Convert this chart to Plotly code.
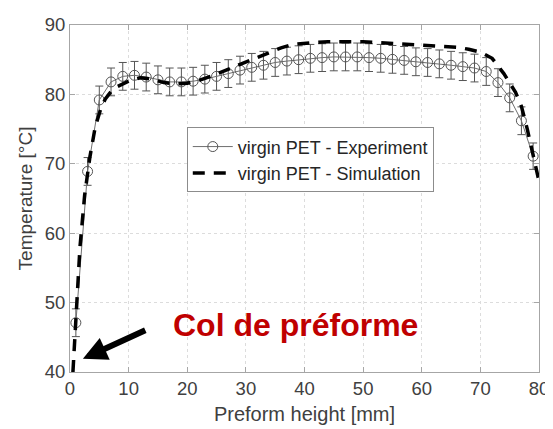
import plotly.graph_objects as go

# Experiment data (virgin PET)
exp_x = [1, 3, 5, 7, 9, 11, 13, 15, 17, 19, 21, 23, 25, 27, 29, 31, 33, 35, 37, 39,
         41, 43, 45, 47, 49, 51, 53, 55, 57, 59, 61, 63, 65, 67, 69, 71, 73, 75, 77, 79]
exp_y = [47.1, 68.9, 79.2, 81.8, 82.6, 82.75, 82.5, 82.1, 81.8, 81.8, 81.9, 82.2, 82.6, 83.0,
         83.5, 83.9, 84.2, 84.6, 84.8, 85.0, 85.2, 85.3, 85.4, 85.4, 85.4, 85.3, 85.2, 85.05,
         84.9, 84.7, 84.6, 84.4, 84.2, 84.0, 83.8, 83.3, 81.7, 79.5, 76.2, 71.1]
exp_err = [2.0, 2.0, 2.0, 2.0, 2.0, 2.0, 2.0, 2.0, 2.0, 2.0, 2.0, 2.0, 2.0, 2.0,
           2.0, 2.0, 2.0, 2.0, 2.0, 2.0, 2.0, 2.0, 2.0, 2.0, 2.0, 2.0, 2.0, 2.0,
           2.0, 2.0, 2.0, 2.0, 2.0, 2.0, 2.0, 2.0, 2.0, 2.0, 2.0, 1.9]

# Simulation data
sim_x = [0.5, 1, 1.7, 2.5, 3.4, 4.3, 5.2, 6, 7, 8, 10, 12, 14, 16, 18, 20, 22, 24, 26, 28,
         30, 32, 34, 36, 38, 40, 42, 44, 46, 48, 50, 52, 54, 56, 58, 60, 62, 64, 66, 68,
         70, 72, 74, 76, 77, 78, 79, 80]
sim_y = [40, 47, 58, 65.5, 71, 75.3, 77.8, 79.3, 80.4, 81.1, 81.9, 82.4, 82.2, 81.7, 81.5,
         81.6, 82.0, 82.6, 83.3, 84.0, 84.7, 85.4, 86.1, 86.7, 87.2, 87.4, 87.5, 87.6, 87.6,
         87.7, 87.6, 87.5, 87.4, 87.3, 87.25, 87.2, 87.1, 87.0, 86.8, 86.5, 86.1, 85.2, 83.0,
         80.3, 78.3, 75.0, 71.3, 67.5]

x_ticks = [0, 10, 20, 30, 40, 50, 60, 70, 80]
y_ticks = [40, 50, 60, 70, 80, 90]

FONT = "Arial, Liberation Sans, Helvetica, sans-serif"
TXT = "#404040"
AX = "#a6a6a6"

fig = go.Figure()
fig.add_trace(go.Scatter(
    x=exp_x, y=exp_y, mode="lines+markers", name="virgin PET - Experiment",
    line=dict(color="#6e6e6e", width=1),
    marker=dict(symbol="circle-open", size=10, color="#555555", line=dict(width=1)),
    error_y=dict(type="data", array=exp_err, visible=True, color="#555555",
                 thickness=1, width=4),
))
fig.add_trace(go.Scatter(
    x=sim_x, y=sim_y, mode="lines", name="virgin PET - Simulation",
    line=dict(color="black", width=3.5, dash="12px,9px"),
))

fig.add_annotation(x=2.2, y=41.9, ax=13.1, ay=46.1, xref="x", yref="y",
                   axref="x", ayref="y", text="", showarrow=True,
                   arrowhead=2, arrowsize=0.8, arrowwidth=6, arrowcolor="black",
                   standoff=0)
fig.add_annotation(x=38.4, y=46.8, xref="x", yref="y", text="<b>Col de préforme</b>",
                   showarrow=False, font=dict(family=FONT, size=32, color="#c00000"))

axis_common = dict(showline=True, mirror="ticks", linecolor=AX, linewidth=1,
                   ticks="inside", ticklen=5, tickcolor=AX,
                   showgrid=True, gridcolor="#dcdcdc", griddash="dot", gridwidth=1,
                   zeroline=False, tickfont=dict(family=FONT, size=18.5, color=TXT))

fig.update_layout(
    width=553, height=429,
    margin=dict(l=62, r=22, t=17, b=65, autoexpand=False),
    paper_bgcolor="white", plot_bgcolor="white",
    font=dict(family=FONT, color=TXT),
    xaxis=dict(range=[0, 80], tickvals=x_ticks, **axis_common,
               title=dict(text="Preform height [mm]", font=dict(family=FONT, size=20, color=TXT),
                          standoff=8)),
    yaxis=dict(range=[40, 90], tickvals=y_ticks, **axis_common,
               title=dict(text="Temperature [°C]", font=dict(family=FONT, size=19, color=TXT),
                          standoff=7)),
    legend=dict(x=0.249, y=0.705, xanchor="left", yanchor="top",
                bgcolor="white", bordercolor="#8c8c8c", borderwidth=1,
                font=dict(family=FONT, size=18, color="#262626"),
                tracegroupgap=0, itemwidth=40),
    showlegend=True,
)

fig.write_html("out.html")
